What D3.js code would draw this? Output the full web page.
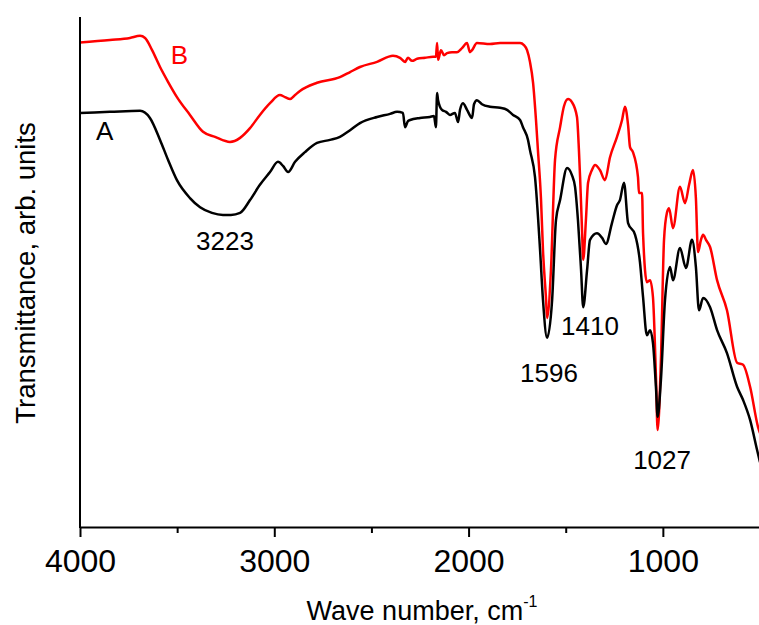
<!DOCTYPE html>
<html>
<head>
<meta charset="utf-8">
<script src="https://cdn.jsdelivr.net/npm/d3@7"></script>
<style>
  body { margin: 0; background: #fff; }
  svg { display: block; font-family: "Liberation Sans", Arial, sans-serif; }
</style>
</head>
<body>
<div id="chart"></div>
<script>
// spectrum A (black): [wave number, transmittance]
const seriesA = [
  [4000,81.2],[3846,81.4],[3691,81.6],[3640,80.2],[3588,75.9],[3547,72.0],[3501,68.0],[3434,64.5],
  [3382,62.7],[3321,61.6],[3264,61.2],[3223,61.2],[3176,61.6],[3125,64.1],[3074,67.1],[3022,69.6],
  [2981,71.6],[2955,70.8],[2929,69.6],[2893,71.6],[2842,73.5],[2780,75.3],[2713,75.9],[2662,76.5],
  [2610,77.8],[2559,79.2],[2471,80.4],[2404,81.0],[2368,81.4],[2338,81.2],[2327,78.4],[2312,79.6],
  [2301,79.8],[2250,80.2],[2199,80.4],[2178,80.6],[2168,78.4],[2162,85.1],[2157,83.7],[2137,81.8],
  [2116,81.4],[2096,80.8],[2070,81.2],[2054,79.4],[2044,81.8],[2029,83.1],[2008,81.8],[1982,80.2],
  [1972,82.9],[1957,83.7],[1931,82.9],[1890,82.4],[1838,82.2],[1802,81.8],[1771,80.8],[1735,79.8],
  [1720,78.4],[1694,75.9],[1684,73.9],[1658,68.6],[1632,54.3],[1617,44.5],[1596,37.1],[1570,44.5],
  [1550,60.2],[1529,64.1],[1493,70.4],[1468,69.0],[1452,66.7],[1437,60.2],[1421,50.4],[1410,43.1],
  [1390,50.4],[1375,56.3],[1339,57.6],[1313,56.7],[1293,55.5],[1262,59.6],[1236,63.1],[1221,64.1],
  [1200,67.5],[1179,59.6],[1143,57.3],[1118,52.0],[1102,45.1],[1082,37.6],[1066,38.6],[1051,36.1],
  [1035,27.0],[1027,21.6],[1010,28.8],[989,44.5],[963,51.0],[948,48.4],[912,54.7],[881,50.8],
  [850,56.3],[830,51.0],[814,42.5],[793,44.9],[757,43.1],[721,38.6],[670,34.1],[618,27.5],
  [587,24.9],[551,21.0],[515,15.1],[500,12.7]
];

// spectrum B (red)
const seriesB = [
  [4000,95.0],[3846,95.5],[3743,95.9],[3691,96.3],[3665,95.9],[3629,93.5],[3588,90.2],[3547,87.3],
  [3501,84.3],[3434,80.8],[3367,77.5],[3305,76.5],[3228,75.5],[3176,76.3],[3125,78.2],[3074,80.8],
  [3022,83.1],[2971,84.7],[2945,84.3],[2919,83.9],[2893,84.7],[2868,85.5],[2780,87.1],[2662,88.2],
  [2610,89.2],[2559,90.2],[2471,91.2],[2389,92.4],[2353,92.0],[2327,91.2],[2312,92.0],[2291,91.4],
  [2265,91.8],[2224,92.0],[2183,92.2],[2168,92.2],[2162,94.9],[2157,91.6],[2142,93.5],[2126,92.5],
  [2111,92.9],[2085,93.1],[2060,93.1],[2034,93.9],[2008,94.9],[1993,93.1],[1982,93.5],[1957,94.9],
  [1890,94.7],[1838,94.9],[1787,94.9],[1735,94.9],[1715,94.5],[1699,93.5],[1684,91.2],[1668,87.1],
  [1653,79.8],[1643,73.9],[1627,64.1],[1617,54.3],[1601,44.5],[1596,41.0],[1576,50.4],[1555,72.0],
  [1529,78.4],[1509,82.5],[1488,83.9],[1468,83.3],[1442,80.4],[1432,73.9],[1426,68.6],[1416,58.2],
  [1410,52.4],[1396,60.2],[1385,67.5],[1365,70.0],[1349,71.0],[1324,70.0],[1298,68.0],[1272,72.5],
  [1236,76.5],[1210,79.8],[1195,82.4],[1179,78.8],[1169,74.5],[1154,73.5],[1128,68.6],[1123,65.5],
  [1107,65.5],[1102,57.6],[1082,48.0],[1066,48.4],[1051,45.1],[1035,28.8],[1027,19.0],[1010,32.7],
  [994,56.3],[979,61.6],[968,62.5],[948,58.6],[912,66.7],[886,63.5],[865,67.1],[845,70.0],
  [830,64.5],[819,53.9],[804,56.3],[793,57.3],[778,56.3],[757,54.9],[721,48.4],[670,42.5],
  [618,32.2],[587,31.8],[551,27.5],[510,19.6],[500,18.4]
];

// text labels placed in data units: [text, wave number, transmittance, colour]
const labels = [
  ["A", 3873, 75.9, "#000"],
  ["B", 3488, 90.8, "#ff0000"],
  ["3223", 3254, 54.3, "#000"],
  ["1596", 1586, 28.5, "#000"],
  ["1410", 1375, 37.6, "#000"],
  ["1027", 1004, 11.4, "#000"]
];

const majorTicks = [4000, 3000, 2000, 1000];
const minorTicks = [3500, 2500, 1500];

const width = 759, height = 625;
const margin = {top: 17, right: -1, bottom: 98, left: 80};

const svg = d3.select("#chart").append("svg")
  .attr("width", width)
  .attr("height", height);

// scales
const x = d3.scaleLinear().domain([4000, 500]).range([margin.left, width - margin.right]);
const y = d3.scaleLinear().domain([0, 100]).range([height - margin.bottom, margin.top]);

// spectra
const line = d3.line()
  .x(d => x(d[0]))
  .y(d => y(d[1]))
  .curve(d3.curveMonotoneX);

svg.append("path")
  .datum(seriesB)
  .attr("fill", "none")
  .attr("stroke", "#ff0000")
  .attr("stroke-width", 2.5)
  .attr("stroke-linejoin", "round")
  .attr("d", line);

svg.append("path")
  .datum(seriesA)
  .attr("fill", "none")
  .attr("stroke", "#000")
  .attr("stroke-width", 2.5)
  .attr("stroke-linejoin", "round")
  .attr("d", line);

// x axis, major then minor ticks
const xAxis = svg.append("g")
  .attr("transform", `translate(0, ${y(0)})`)
  .call(d3.axisBottom(x).tickValues(majorTicks).tickFormat(d3.format("d"))
    .tickSize(10).tickPadding(12).tickSizeOuter(0));
xAxis.select(".domain").attr("stroke-width", 2);
xAxis.selectAll(".tick line").attr("stroke-width", 2);
xAxis.selectAll(".tick text")
  .attr("font-size", 32)
  .attr("font-family", "Liberation Sans, Arial, sans-serif")
  .attr("fill", "#000");

const xMinor = svg.append("g")
  .attr("transform", `translate(0, ${y(0)})`)
  .call(d3.axisBottom(x).tickValues(minorTicks).tickSize(6).tickFormat(""));
xMinor.select(".domain").remove();
xMinor.selectAll(".tick line").attr("stroke-width", 2);

// y axis: plain line only
svg.append("line")
  .attr("x1", x(4000)).attr("x2", x(4000))
  .attr("y1", margin.top).attr("y2", y(0) + 1)
  .attr("stroke", "#000")
  .attr("stroke-width", 2);

// axis titles
const xTitle = svg.append("text")
  .attr("x", 422)
  .attr("y", 620)
  .attr("text-anchor", "middle")
  .attr("font-size", 27)
  .text("Wave number, cm");
xTitle.append("tspan")
  .attr("font-size", 16)
  .attr("dy", -13)
  .text("-1");

svg.append("text")
  .attr("transform", "translate(35, 273) rotate(-90)")
  .attr("text-anchor", "middle")
  .attr("font-size", 27.5)
  .text("Transmittance, arb. units");

// peak and series labels
svg.selectAll(".label")
  .data(labels)
  .join("text")
  .attr("class", "label")
  .attr("x", d => x(d[1]))
  .attr("y", d => y(d[2]))
  .attr("text-anchor", "middle")
  .attr("font-size", 26)
  .attr("fill", d => d[3])
  .text(d => d[0]);
</script>
</body>
</html>
